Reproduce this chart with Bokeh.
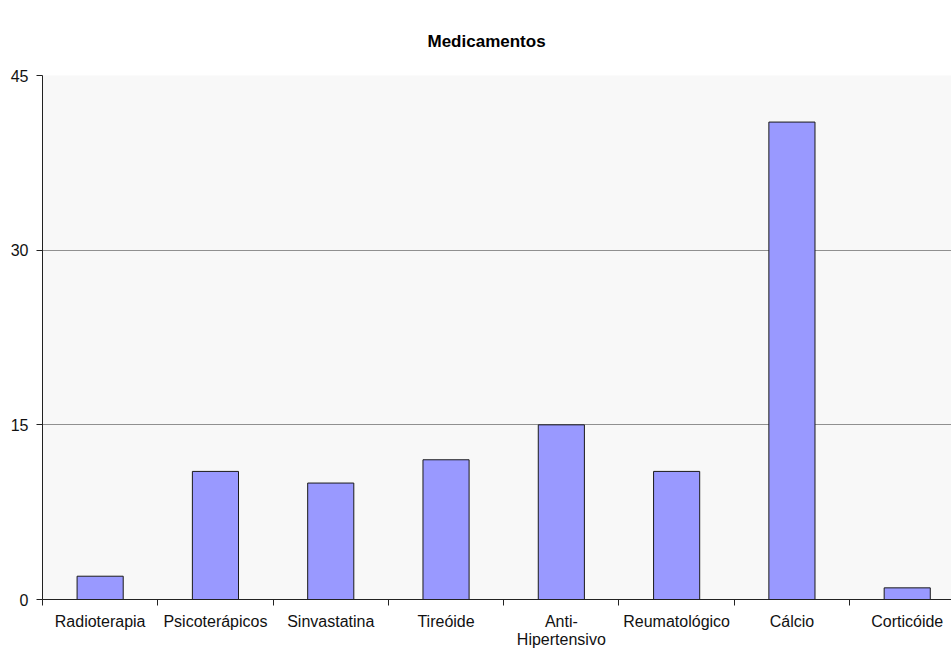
from bokeh.plotting import figure
from bokeh.models import Range1d, FixedTicker, LinearAxis
from bokeh.embed import file_html
from bokeh.resources import INLINE

# Medication counts
categories = ["Radioterapia", "Psicoterápicos", "Sinvastatina", "Tireóide",
              "Anti-\nHipertensivo", "Reumatológico", "Cálcio", "Corticóide"]
counts = [2, 11, 10, 12, 15, 11, 41, 1]
y_ticks = [0, 15, 30, 45]

# category slots: each category occupies one unit, bar centred in its slot
centers = [i + 0.5 for i in range(len(categories))]
bounds = list(range(len(categories) + 1))

FONT = "Liberation Sans"

p = figure(width=951, height=651, output_backend="svg", toolbar_location=None,
           x_range=Range1d(0, 7.884), y_range=Range1d(0, 45),
           x_axis_location=None, y_axis_location=None,
           min_border_left=42, min_border_right=0, min_border_top=75,
           min_border_bottom=52)

p.title.text = "Medicamentos"
p.title.align = "left"
p.title.offset = 385
p.title.standoff = 50
p.title.text_font = FONT
p.title.text_font_size = "17px"
p.title.text_font_style = "bold"
p.title.text_color = "#000000"

p.border_fill_color = "white"
p.outline_line_color = None
p.background_fill_color = "#f8f8f8"

p.vbar(x=centers, top=counts, width=0.40, bottom=0,
       fill_color="#9999ff", line_color="#1a1a1a", line_width=1)

# y axis
yaxis = LinearAxis(ticker=FixedTicker(ticks=y_ticks))
yaxis.axis_line_color = "#222222"
yaxis.major_tick_line_color = "#222222"
yaxis.major_tick_out = 6
yaxis.major_tick_in = 0
yaxis.minor_tick_line_color = None
yaxis.major_label_text_font = FONT
yaxis.major_label_text_font_size = "16px"
yaxis.major_label_text_color = "#111111"
yaxis.major_label_standoff = 8
p.add_layout(yaxis, "left")

# x axis: labels at slot centres, ticks at slot boundaries
xaxis = LinearAxis(ticker=FixedTicker(ticks=centers, minor_ticks=bounds))
xaxis.major_label_overrides = {c: lab for c, lab in zip(centers, categories)}
xaxis.axis_line_color = "#222222"
xaxis.major_tick_line_color = None
xaxis.minor_tick_line_color = "#222222"
xaxis.minor_tick_out = 6
xaxis.minor_tick_in = 0
xaxis.major_label_text_font = FONT
xaxis.major_label_text_font_size = "16px"
xaxis.major_label_text_line_height = 1.1
xaxis.major_label_text_color = "#111111"
xaxis.major_label_standoff = 7
p.add_layout(xaxis, "below")

p.xgrid.visible = False
p.ygrid.ticker = FixedTicker(ticks=y_ticks)
p.ygrid.grid_line_color = "#909090"
p.ygrid.grid_line_width = 1

open("out.html", "w").write(file_html(p, INLINE))
